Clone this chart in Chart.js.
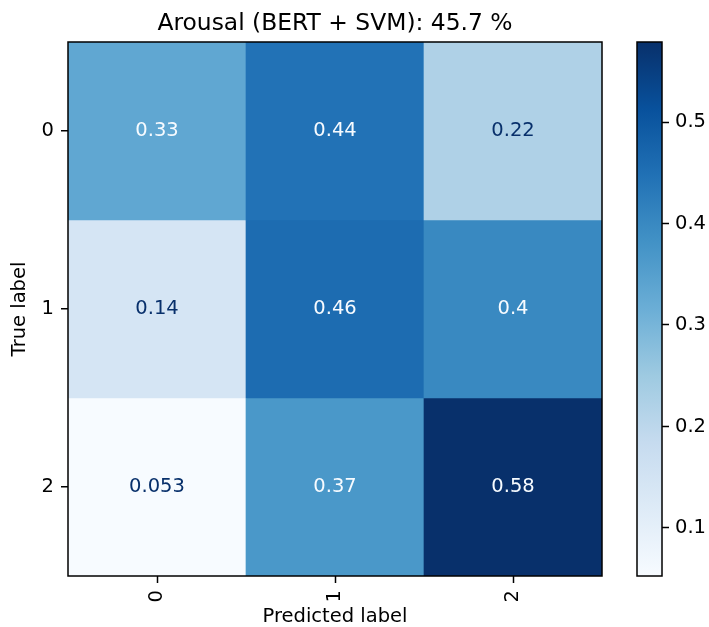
<!DOCTYPE html>
<html>
<head>
<meta charset="utf-8">
<script src="https://cdn.jsdelivr.net/npm/chart.js@4/dist/chart.umd.min.js"></script>
<style>
  html, body { margin: 0; padding: 0; background: #ffffff; }
  #wrap { position: relative; width: 709px; height: 627px; }
  canvas { position: absolute; left: 0; top: 0; }
</style>
</head>
<body>
<div id="wrap">
  <canvas id="cm" width="709" height="627"></canvas>
  <canvas id="cb" width="709" height="627"></canvas>
</div>
<script>
// ---------------- data ----------------
const titleText = 'Arousal (BERT + SVM): 45.7 %';
const predictedLabels = ['0', '1', '2'];
const trueLabels = ['0', '1', '2'];
const row0 = [0.3333, 0.4444, 0.2222];
const row1 = [0.1429, 0.4571, 0.4000];
const row2 = [0.0526, 0.3684, 0.5789];
const matrix = [row0, row1, row2];
const rowTicks = [0, 1, 2];
const cbarTicks = [0.1, 0.2, 0.3, 0.4, 0.5];
const xTitle = 'Predicted label';
const yTitle = 'True label';

// ---------------- styling helpers ----------------
const FONT = '"DejaVu Sans", sans-serif';
const BLUES = ['#f7fbff', '#deebf7', '#c6dbef', '#9ecae1', '#6baed6', '#4292c6', '#2171b5', '#08519c', '#08306b'];
function hexToRgb(h) { return [parseInt(h.slice(1,3),16), parseInt(h.slice(3,5),16), parseInt(h.slice(5,7),16)]; }
function blues(t) {
  t = Math.max(0, Math.min(1, t));
  const p = t * (BLUES.length - 1);
  const i = Math.min(Math.floor(p), BLUES.length - 2);
  const f = p - i;
  const a = hexToRgb(BLUES[i]), b = hexToRgb(BLUES[i + 1]);
  const c = a.map((v, k) => Math.round(v + (b[k] - v) * f));
  return 'rgb(' + c.join(',') + ')';
}
const flat = matrix.flat();
const vMin = Math.min(...flat);
const vMax = Math.max(...flat);
const thresh = (vMin + vMax) / 2;
const norm = v => (v - vMin) / (vMax - vMin);
const fmt = v => Number(v.toPrecision(2)).toString();

const LW = 1.5;
const outlinePlugin = {
  id: 'outline',
  afterDraw(chart) {
    const a = chart.chartArea, ctx = chart.ctx;
    ctx.save();
    ctx.strokeStyle = '#000';
    ctx.lineWidth = LW;
    ctx.strokeRect(a.left, a.top, a.right - a.left, a.bottom - a.top);
    ctx.restore();
  }
};

const cellTextPlugin = {
  id: 'cellText',
  afterDatasetsDraw(chart) {
    const ctx = chart.ctx;
    ctx.save();
    ctx.font = '19.5px ' + FONT;
    ctx.textAlign = 'center';
    ctx.textBaseline = 'middle';
    chart.data.datasets.forEach((ds, i) => {
      const meta = chart.getDatasetMeta(i);
      meta.data.forEach((el, j) => {
        const v = ds.values[j];
        const p = el.getProps(['x', 'y', 'base'], true);
        ctx.fillStyle = v > thresh ? BLUES[0] : BLUES[BLUES.length - 1];
        ctx.fillText(fmt(v), p.x, (p.y + p.base) / 2);
      });
    });
    ctx.restore();
  }
};

const titlePlugin = {
  id: 'axTitle',
  afterDraw(chart) {
    const a = chart.chartArea, ctx = chart.ctx;
    ctx.save();
    ctx.font = '23.4px ' + FONT;
    ctx.fillStyle = '#000';
    ctx.textAlign = 'center';
    ctx.textBaseline = 'alphabetic';
    ctx.fillText(titleText, (a.left + a.right) / 2, a.top - 12);
    ctx.restore();
  }
};

// ---------------- confusion matrix ----------------
const datasets = matrix.map((row, r) => ({
  label: 'True ' + trueLabels[r],
  values: row,
  data: row.map(() => [rowTicks[r] - 0.5, rowTicks[r] + 0.5]),
  backgroundColor: row.map(v => blues(norm(v))),
  borderWidth: 0,
  grouped: false,
  barPercentage: 1,
  categoryPercentage: 1
}));

new Chart(document.getElementById('cm'), {
  type: 'bar',
  data: { labels: predictedLabels, datasets },
  options: {
    responsive: false,
    animation: false,
    events: [],
    layout: { padding: { left: 0, top: 42, right: 107, bottom: 0 } },
    plugins: { legend: { display: false }, tooltip: { enabled: false }, title: { display: false } },
    scales: {
      x: {
        type: 'category',
        offset: true,
        grid: { offset: false, drawOnChartArea: false, drawTicks: true, tickLength: 7, tickWidth: LW, tickColor: '#000' },
        border: { display: false },
        ticks: { minRotation: 90, maxRotation: 90, padding: 7, color: '#000', font: { family: FONT, size: 19.5 } },
        title: { display: true, text: xTitle, color: '#000', font: { family: FONT, size: 19.5 }, padding: { top: 0, bottom: -2 } },
        afterFit(s) { s.height = 51; }
      },
      y: {
        type: 'linear',
        min: -0.5,
        max: 2.5,
        reverse: true,
        grid: { drawOnChartArea: false, drawTicks: true, tickLength: 7, lineWidth: LW, tickWidth: LW, tickColor: '#000' },
        border: { display: false },
        afterBuildTicks(s) { s.ticks = rowTicks.map(v => ({ value: v })); },
        ticks: { padding: 7, color: '#000', font: { family: FONT, size: 19.5 }, callback: v => trueLabels[v] },
        title: { display: true, text: yTitle, color: '#000', font: { family: FONT, size: 19.5 }, padding: { top: 8, bottom: 0 } },
        afterFit(s) { s.width = 68; }
      }
    }
  },
  plugins: [cellTextPlugin, outlinePlugin, titlePlugin]
});

// ---------------- colorbar ----------------
new Chart(document.getElementById('cb'), {
  type: 'bar',
  data: {
    labels: ['colorbar'],
    datasets: [{
      data: [[vMin, vMax]],
      backgroundColor(c) {
        const area = c.chart.chartArea;
        if (!area) return BLUES[4];
        const g = c.chart.ctx.createLinearGradient(0, area.bottom, 0, area.top);
        BLUES.forEach((col, i) => g.addColorStop(i / (BLUES.length - 1), col));
        return g;
      },
      borderWidth: 0,
      barPercentage: 1,
      categoryPercentage: 1
    }]
  },
  options: {
    responsive: false,
    animation: false,
    events: [],
    layout: { padding: { left: 637, top: 42, right: 0, bottom: 51 } },
    plugins: { legend: { display: false }, tooltip: { enabled: false } },
    scales: {
      x: { display: false, offset: true },
      y: {
        type: 'linear',
        position: 'right',
        min: vMin,
        max: vMax,
        grid: { drawOnChartArea: false, drawTicks: true, tickLength: 7, tickWidth: LW, tickColor: '#000' },
        border: { display: false },
        afterBuildTicks(s) { s.ticks = cbarTicks.map(v => ({ value: v })); },
        ticks: { padding: 6, color: '#000', font: { family: FONT, size: 19.5 }, callback: v => v.toFixed(1) },
        afterFit(s) { s.width = 47; }
      }
    }
  },
  plugins: [outlinePlugin]
});
</script>
</body>
</html>
